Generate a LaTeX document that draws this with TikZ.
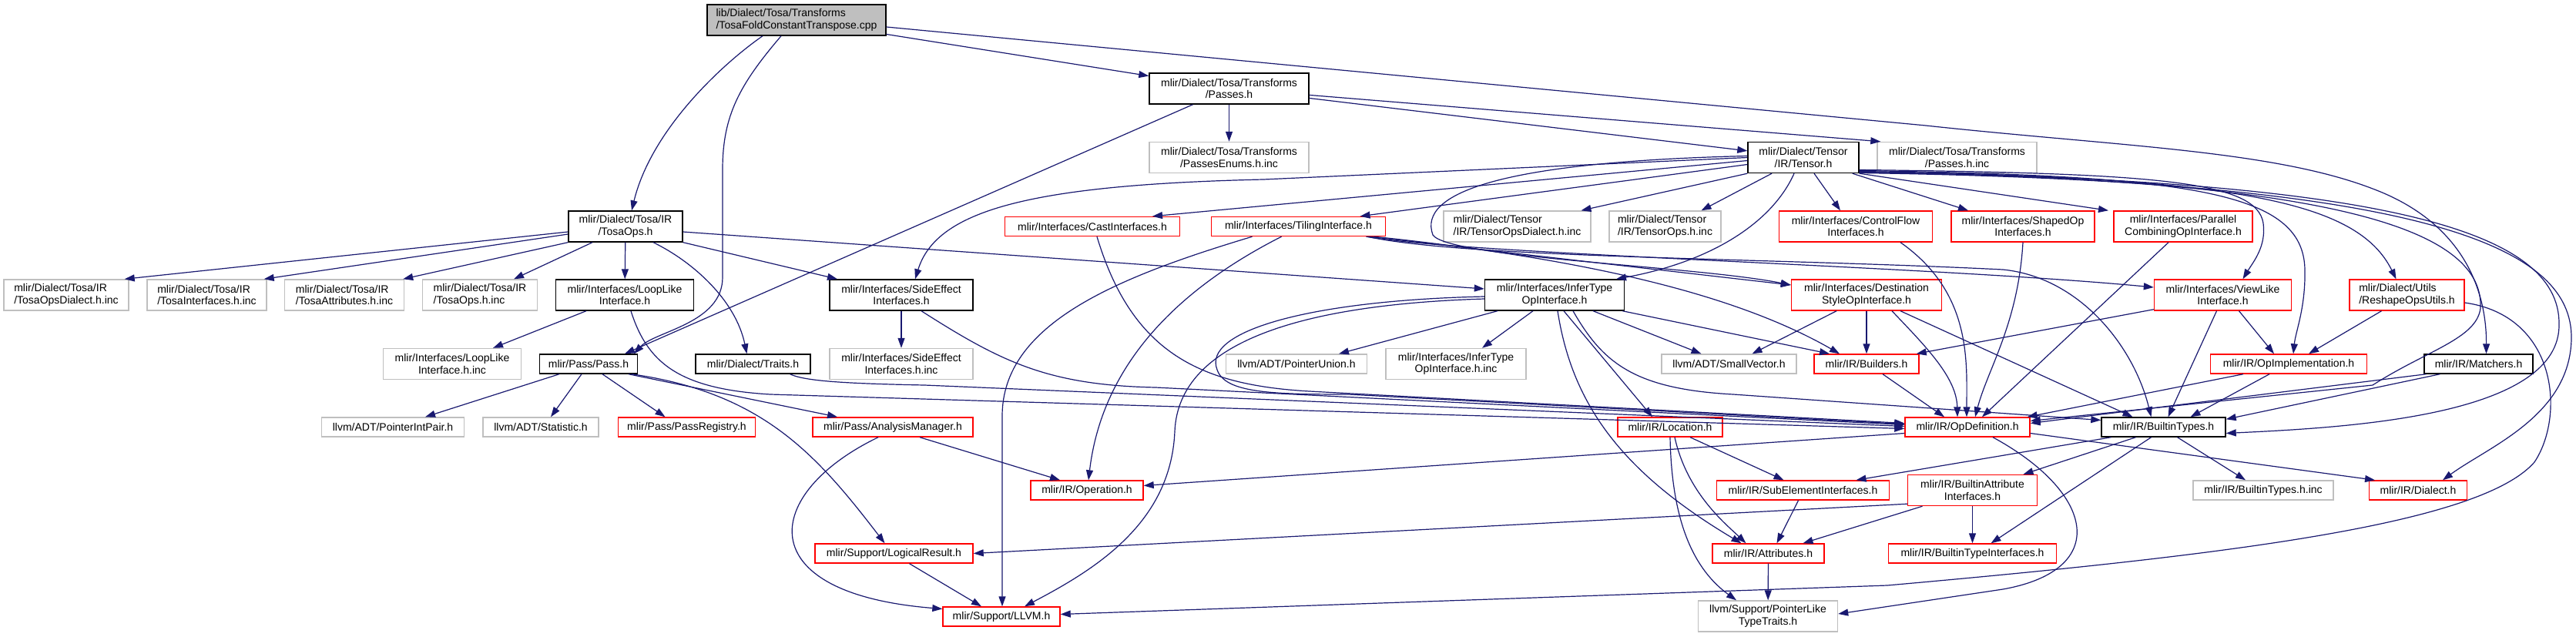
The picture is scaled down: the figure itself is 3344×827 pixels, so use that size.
\documentclass[tikz,border=0pt]{standalone}
\usepackage{fontspec}
\setmainfont{Liberation Sans}
\usetikzlibrary{arrows.meta}
\definecolor{doxEdge}{HTML}{191970}
\definecolor{doxRed}{HTML}{FF0000}
\definecolor{doxGray}{HTML}{BFBFBF}
\tikzset{
  arrowN/.style={-{Triangle[length=13pt, width=9pt]}, doxEdge, line width=1.2pt},
  boxK/.style={rectangle, draw=black, fill=white, line width=1.4pt, align=center,
               inner sep=2pt, minimum height=25pt},
  boxR/.style={boxK, draw=doxRed},
  boxG/.style={boxK, draw=doxGray},
  boxRoot/.style={boxK, fill=doxGray},
  tall/.style={minimum height=40pt},
}
\begin{document}
\begin{tikzpicture}[x=1pt, y=-1pt, font=\fontsize{14}{15.7}\selectfont]
    \path[use as bounding box, fill=white] (0,0) rectangle (3344,827);
    % rank 0 - 2
    \node[boxRoot, tall, align=left, minimum width=232pt] (fold) at (1034,26) {lib/Dialect/Tosa/Transforms\\/TosaFoldConstantTranspose.cpp};
    \node[boxK, tall, minimum width=207pt] (passes) at (1595.5,115) {mlir/Dialect/Tosa/Transforms\\/Passes.h};
    \node[boxG, tall, minimum width=207pt] (passesEnums) at (1595.5,204.5) {mlir/Dialect/Tosa/Transforms\\/PassesEnums.h.inc};
    \node[boxK, tall, minimum width=144pt] (tensor) at (2341,204.5) {mlir/Dialect/Tensor\\/IR/Tensor.h};
    \node[boxG, tall, minimum width=207pt] (passesInc) at (2540.5,204.5) {mlir/Dialect/Tosa/Transforms\\/Passes.h.inc};
    % rank 3
    \node[boxK, tall, minimum width=148pt] (tosaOps) at (812,294) {mlir/Dialect/Tosa/IR\\/TosaOps.h};
    \node[boxR, minimum width=227pt] (castIf) at (1418,294) {mlir/Interfaces/CastInterfaces.h};
    \node[boxR, minimum width=226pt] (tilingIf) at (1685.5,294) {mlir/Interfaces/TilingInterface.h};
    \node[boxG, tall, align=left, minimum width=191pt] (tensorDialectInc) at (1969.5,294) {mlir/Dialect/Tensor\\/IR/TensorOpsDialect.h.inc};
    \node[boxG, tall, align=left, minimum width=145pt] (tensorOpsInc) at (2161.5,294) {mlir/Dialect/Tensor\\/IR/TensorOps.h.inc};
    \node[boxR, tall, minimum width=199pt] (controlFlow) at (2409,294) {mlir/Interfaces/ControlFlow\\Interfaces.h};
    \node[boxR, tall, minimum width=186pt] (shapedOp) at (2626,294) {mlir/Interfaces/ShapedOp\\Interfaces.h};
    \node[boxR, tall, minimum width=180pt] (parallelOp) at (2834,294) {mlir/Interfaces/Parallel\\CombiningOpInterface.h};
    % rank 4
    \node[boxG, tall, align=left, minimum width=162pt] (tosaDialectInc) at (86,383) {mlir/Dialect/Tosa/IR\\/TosaOpsDialect.h.inc};
    \node[boxG, tall, align=left, minimum width=155pt] (tosaIfInc) at (268.5,383) {mlir/Dialect/Tosa/IR\\/TosaInterfaces.h.inc};
    \node[boxG, tall, align=left, minimum width=155pt] (tosaAttrInc) at (447,383) {mlir/Dialect/Tosa/IR\\/TosaAttributes.h.inc};
    \node[boxG, tall, align=left, minimum width=149pt] (tosaOpsInc) at (623,383) {mlir/Dialect/Tosa/IR\\/TosaOps.h.inc};
    \node[boxK, tall, minimum width=179pt] (loopLike) at (811,383) {mlir/Interfaces/LoopLike\\Interface.h};
    \node[boxK, tall, minimum width=186pt] (sideEffect) at (1170,383) {mlir/Interfaces/SideEffect\\Interfaces.h};
    \node[boxK, tall, minimum width=181pt] (inferType) at (2018,383) {mlir/Interfaces/InferType\\OpInterface.h};
    \node[boxR, tall, minimum width=195pt] (destStyle) at (2423,383) {mlir/Interfaces/Destination\\StyleOpInterface.h};
    \node[boxR, tall, minimum width=178pt] (viewLike) at (2885.5,383) {mlir/Interfaces/ViewLike\\Interface.h};
    \node[boxR, tall, align=left, minimum width=149pt] (reshapeUtils) at (3124.5,383) {mlir/Dialect/Utils\\/ReshapeOpsUtils.h};
    % rank 5
    \node[boxG, tall, minimum width=179pt] (loopLikeInc) at (587,472.5) {mlir/Interfaces/LoopLike\\Interface.h.inc};
    \node[boxK, minimum width=127pt] (passH) at (764,472.5) {mlir/Pass/Pass.h};
    \node[boxK, minimum width=149pt] (traits) at (977.5,472.5) {mlir/Dialect/Traits.h};
    \node[boxG, tall, minimum width=186pt] (sideEffectInc) at (1170,472.5) {mlir/Interfaces/SideEffect\\Interfaces.h.inc};
    \node[boxG, minimum width=183pt] (pointerUnion) at (1683,472.5) {llvm/ADT/PointerUnion.h};
    \node[boxG, tall, minimum width=182pt] (inferTypeInc) at (1890,472.5) {mlir/Interfaces/InferType\\OpInterface.h.inc};
    \node[boxG, minimum width=175pt] (smallVector) at (2244.5,472.5) {llvm/ADT/SmallVector.h};
    \node[boxR, minimum width=136pt] (builders) at (2423,472.5) {mlir/IR/Builders.h};
    \node[boxR, minimum width=203pt] (opImpl) at (2971,472.5) {mlir/IR/OpImplementation.h};
    \node[boxK, minimum width=141pt] (matchers) at (3217.5,472.5) {mlir/IR/Matchers.h};
    % rank 6
    \node[boxG, minimum width=185pt] (pointerIntPair) at (510,554.5) {llvm/ADT/PointerIntPair.h};
    \node[boxG, minimum width=150pt] (statistic) at (702,554.5) {llvm/ADT/Statistic.h};
    \node[boxR, minimum width=178pt] (passRegistry) at (891.5,554.5) {mlir/Pass/PassRegistry.h};
    \node[boxR, minimum width=208pt] (analysisMgr) at (1159,554.5) {mlir/Pass/AnalysisManager.h};
    \node[boxR, minimum width=136pt] (location) at (2168,554.5) {mlir/IR/Location.h};
    \node[boxR, minimum width=162pt] (opDef) at (2554,554.5) {mlir/IR/OpDefinition.h};
    \node[boxK, minimum width=161pt] (builtinTypes) at (2808.5,554.5) {mlir/IR/BuiltinTypes.h};
    % rank 7 - 9
    \node[boxR, minimum width=146pt] (operation) at (1411,636.5) {mlir/IR/Operation.h};
    \node[boxR, minimum width=224pt] (subElement) at (2340.5,636.5) {mlir/IR/SubElementInterfaces.h};
    \node[boxR, tall, minimum width=168pt] (builtinAttrIf) at (2560.5,636.5) {mlir/IR/BuiltinAttribute\\Interfaces.h};
    \node[boxG, minimum width=182pt] (builtinTypesInc) at (2938,636.5) {mlir/IR/BuiltinTypes.h.inc};
    \node[boxR, minimum width=127pt] (dialect) at (3139,636.5) {mlir/IR/Dialect.h};
    \node[boxR, minimum width=205pt] (logicalResult) at (1160.5,718.5) {mlir/Support/LogicalResult.h};
    \node[boxR, minimum width=145pt] (attributes) at (2295.5,718.5) {mlir/IR/Attributes.h};
    \node[boxR, minimum width=218pt] (builtinTypeIf) at (2560.5,718.5) {mlir/IR/BuiltinTypeInterfaces.h};
    \node[boxR, minimum width=152pt] (llvmH) at (1300,800.5) {mlir/Support/LLVM.h};
    \node[boxG, tall, minimum width=181pt] (pointerLike) at (2295,800) {llvm/Support/PointerLike\\TypeTraits.h};

    % root and Passes.h
    \draw[arrowN] ([xshift=-44pt]fold.south) .. controls (935,85) and (845,170) .. ([xshift=8pt]tosaOps.north);
    \draw[arrowN] ([xshift=-20pt]fold.south) .. controls (960,110) and (938,150) .. (938,220) -- (938,360)
      .. controls (938,420) and (850,430) .. ([xshift=59pt]passH.north);
    \draw[arrowN] (fold) -- (passes);
    \draw[arrowN] ([yshift=-9pt]fold.east) -- (2500,163) .. controls (2750,190) and (2950,195) .. (3080,245)
      .. controls (3200,290) and (3228,380) .. ([xshift=10pt]matchers.north);
    \draw[arrowN] (passes) -- (passesEnums); \draw[arrowN] (passes) -- (tensor);
    \draw[arrowN] (passes) -- ([xshift=5pt]passesInc.north west);
    \draw[arrowN] ([xshift=-47pt]passes.south) -- ([xshift=47pt]passH.north);

    % Tensor.h
    \draw[arrowN] ([yshift=-4pt]tensor.west) -- ([xshift=78pt]castIf.north);
    \draw[arrowN] ([yshift=-9pt]tensor.west) -- ([xshift=80pt]tilingIf.north);
    \draw[arrowN] (tensor.west) -- (1640,233) .. controls (1330,240) and (1215,275) .. ([xshift=18pt]sideEffect.north);
    \draw[arrowN] (tensor.south west) -- ([xshift=83pt]tensorDialectInc.north);
    \draw[arrowN] ([xshift=-41pt]tensor.south) -- ([xshift=47pt]tensorOpsInc.north);
    \draw[arrowN] ([xshift=-12pt]tensor.south) .. controls (2300,290) and (2220,340) .. ([xshift=80pt]inferType.north);
    \draw[arrowN] ([xshift=14pt]tensor.south) -- ([xshift=-20pt]controlFlow.north);
    \draw[arrowN] ([xshift=-9pt]tensor.south east) -- ([xshift=-71pt]shapedOp.north);
    \draw[arrowN] (tensor.south east) -- ([xshift=-97pt]parallelOp.north);
    \draw[arrowN] ([yshift=-16pt]tensor.east) .. controls (2800,225) and (2930,235) .. (2938,290)
      .. controls (2942,320) and (2925,340) .. ([xshift=26pt]viewLike.north);
    \draw[arrowN] ([yshift=-17pt]tensor.east) .. controls (2850,228) and (2990,250) .. (2992,350)
      .. controls (2993,400) and (2980,430) .. ([xshift=6pt]opImpl.north);
    \draw[arrowN] ([yshift=-18pt]tensor.east) .. controls (2900,230) and (3060,260) .. ([xshift=-14pt]reshapeUtils.north);
    \draw[arrowN] ([yshift=-19pt]tensor.east) .. controls (3000,232) and (3225,290) .. (3220,400)
      .. controls (3215,440) and (3150,455) .. (3080,500) -- ([yshift=8pt]opDef.east);
    \draw[arrowN] ([yshift=-19.5pt]tensor.east) .. controls (3100,232) and (3322,300) .. (3322,420)
      .. controls (3325,540) and (3050,555) .. ([yshift=-8pt]builtinTypes.east);
    \draw[arrowN] ([yshift=-20pt]tensor.east) .. controls (3150,235) and (3340,320) .. (3338,440)
      .. controls (3336,540) and (3230,580) .. ([xshift=32pt]dialect.north);
    \draw[arrowN] ([yshift=2pt]tensor.west) .. controls (1950,210) and (1840,250) .. (1860,305)
      .. controls (1880,335) and (2200,345) .. ([yshift=13pt]destStyle.west);

    % TilingInterface.h
    \draw[arrowN] ([xshift=92pt]tilingIf.south) -- ([yshift=13pt]destStyle.west);
    \draw[arrowN] ([xshift=88pt]tilingIf.south) .. controls (1900,330) and (2500,345) .. ([yshift=10pt]viewLike.west);
    \draw[arrowN] ([xshift=90pt]tilingIf.south) .. controls (1900,335) and (2300,335) .. (2600,350)
      .. controls (2700,360) and (2770,450) .. ([xshift=-16pt]builtinTypes.north);
    \draw[arrowN] ([xshift=98pt]tilingIf.south) .. controls (2050,335) and (2250,380) .. ([xshift=-35pt]builders.north);
    \draw[arrowN] ([xshift=-22pt]tilingIf.south) .. controls (1520,380) and (1430,480) .. ([xshift=2pt]operation.north);
    \draw[arrowN] ([xshift=-60pt]tilingIf.south) .. controls (1450,360) and (1301,420) .. (1301,540) -- ([xshift=1pt]llvmH.north);

    % interfaces into OpDefinition.h
    \draw[arrowN] ([xshift=6pt]castIf.south) .. controls (1470,460) and (1560,500) .. (1700,508) -- ([yshift=5pt]opDef.west);
    \draw[arrowN] (sideEffect) -- (sideEffectInc);
    \draw[arrowN] ([xshift=26pt]sideEffect.south) .. controls (1300,470) and (1360,500) .. (1500,503) -- ([yshift=3pt]opDef.west);
    \draw[arrowN] ([xshift=48pt]traits.south) .. controls (1045,495) and (1100,498) .. (1200,500) -- ([yshift=1pt]opDef.west);
    \draw[arrowN] ([xshift=8pt]loopLike.south) .. controls (840,470) and (880,505) .. (1000,512) -- ([yshift=-2pt]opDef.west);

    % InferTypeOpInterface.h
    \draw[arrowN] ([yshift=-2pt]inferType.west) .. controls (1700,390) and (1560,430) .. (1580,480)
      .. controls (1590,510) and (1650,512) .. (1750,512) -- ([yshift=4pt]opDef.west);
    \draw[arrowN] ([yshift=-5pt]inferType.west) .. controls (1700,395) and (1530,440) .. (1525,560)
      .. controls (1520,680) and (1420,740) .. ([xshift=30pt]llvmH.north);
    \draw[arrowN] ([xshift=-74pt]inferType.south) -- ([xshift=55pt]pointerUnion.north);
    \draw[arrowN] ([xshift=-28pt]inferType.south) -- ([xshift=34pt]inferTypeInc.north);
    \draw[arrowN] ([xshift=12pt]inferType.south) -- ([xshift=-23pt]location.north);
    \draw[arrowN] ([xshift=4pt]inferType.south) .. controls (2040,520) and (2100,610) .. ([xshift=-35pt]attributes.north);
    \draw[arrowN] ([xshift=24pt]inferType.south) .. controls (2080,470) and (2120,505) .. (2250,512) -- ([yshift=9pt]builtinTypes.west);
    \draw[arrowN] ([xshift=50pt]inferType.south) -- ([xshift=-36pt]smallVector.north);
    \draw[arrowN] ([xshift=-3pt]inferType.south east) -- ([xshift=-48pt]builders.north);

    % TosaOps.h
    \draw[arrowN] ([yshift=-7pt]tosaOps.west) -- ([xshift=-6pt]tosaDialectInc.north east);
    \draw[arrowN] ([yshift=-10pt]tosaOps.west) -- ([xshift=-4pt]tosaIfInc.north east);
    \draw[arrowN] (tosaOps.south west) -- ([xshift=-2pt]tosaAttrInc.north east);
    \draw[arrowN] ([xshift=-43pt]tosaOps.south) -- ([xshift=44pt]tosaOpsInc.north);
    \draw[arrowN] (tosaOps) -- (loopLike);
    \draw[arrowN] ([xshift=36pt]tosaOps.south) .. controls (900,340) and (955,390) .. ([xshift=-8pt]traits.north);
    \draw[arrowN] (tosaOps.south east) -- ([xshift=-83pt]sideEffect.north);
    \draw[arrowN] ([yshift=-7pt]tosaOps.east) -- ([yshift=8pt]inferType.west);
    \draw[arrowN] ([xshift=-50pt]loopLike.south) -- ([xshift=53pt]loopLikeInc.north);

    % Pass.h and below
    \draw[arrowN] ([xshift=-38pt]passH.south) -- ([xshift=42pt]pointerIntPair.north);
    \draw[arrowN] ([xshift=-9pt]passH.south) -- ([xshift=13pt]statistic.north);
    \draw[arrowN] ([xshift=18pt]passH.south) -- ([xshift=-28pt]passRegistry.north);
    \draw[arrowN] ([xshift=52pt]passH.south) -- ([xshift=-72pt]analysisMgr.north);
    \draw[arrowN] ([xshift=56pt]passH.south) .. controls (990,510) and (1060,590) .. ([xshift=-12pt]logicalResult.north);
    \draw[arrowN] ([xshift=35pt]analysisMgr.south) -- ([xshift=-35pt]operation.north);
    \draw[arrowN] ([xshift=-19pt]analysisMgr.south) .. controls (990,640) and (970,770) .. ([yshift=10pt]llvmH.west);
    \draw[arrowN] ([xshift=20pt]logicalResult.south) -- ([xshift=-26pt]llvmH.north);

    % IR headers
    \draw[arrowN] ([xshift=26pt]location.south) -- ([xshift=-25pt]subElement.north);
    \draw[arrowN] ([xshift=6pt]location.south) .. controls (2190,640) and (2240,680) .. ([xshift=-29pt]attributes.north);
    \draw[arrowN] (location.south) .. controls (2170,680) and (2200,740) .. ([xshift=-41pt]pointerLike.north);
    \draw[arrowN] ([yshift=-8pt]opDef.west) -- ([yshift=6pt]operation.east);
    \draw[arrowN] ([yshift=-8pt]opDef.east) -- ([xshift=-56pt]dialect.north);
    \draw[arrowN] ([xshift=33pt]opDef.south) .. controls (2720,640) and (2740,740) .. (2600,765) -- ([yshift=3pt]pointerLike.east);
    \draw[arrowN] ([xshift=-68pt]builtinTypes.south) -- ([xshift=69pt]subElement.north);
    \draw[arrowN] ([xshift=-36pt]builtinTypes.south) -- ([xshift=66pt]builtinAttrIf.north);
    \draw[arrowN] ([xshift=-16pt]builtinTypes.south) -- ([xshift=24pt]builtinTypeIf.north);
    \draw[arrowN] ([xshift=18pt]builtinTypes.south) -- ([xshift=-23pt]builtinTypesInc.north);
    \draw[arrowN] ([xshift=-6pt]subElement.south) -- ([xshift=11pt]attributes.north);
    \draw[arrowN] ([xshift=-65pt]builtinAttrIf.south) -- ([xshift=45pt]attributes.north);
    \draw[arrowN] (builtinAttrIf) -- (builtinTypeIf);
    \draw[arrowN] ([yshift=3pt]builtinAttrIf.south west) -- (logicalResult.east);
    \draw[arrowN] (attributes) -- (pointerLike);

    % right part
    \draw[arrowN] ([xshift=-59pt]opImpl.south) -- ([xshift=-4pt]opDef.north east);
    \draw[arrowN] ([xshift=-25pt]opImpl.south) -- ([xshift=35pt]builtinTypes.north);
    \draw[arrowN] ([yshift=2pt]viewLike.south west) -- ([xshift=-4pt]builders.north east);
    \draw[arrowN] ([xshift=21pt]viewLike.south) -- ([xshift=-19pt]opImpl.north);
    \draw[arrowN] ([xshift=-8pt]viewLike.south) -- ([xshift=6pt]builtinTypes.north);
    \draw[arrowN] ([xshift=-33pt]reshapeUtils.south) -- ([xshift=26pt]opImpl.north);
    \draw[arrowN] ([yshift=-10pt]reshapeUtils.east) .. controls (3320,410) and (3330,540) .. (3290,600)
      .. controls (3220,680) and (2900,720) .. (2450,760) -- ([yshift=3pt]llvmH.east);
    \draw[arrowN] ([xshift=21pt]builders.south) -- ([xshift=-30pt]opDef.north);
    \draw[arrowN] ([xshift=-39pt]destStyle.south) -- ([xshift=30pt]smallVector.north);
    \draw[arrowN] (destStyle) -- (builders);
    \draw[arrowN] ([xshift=33pt]destStyle.south) .. controls (2500,450) and (2540,490) .. ([xshift=-13pt]opDef.north);
    \draw[arrowN] ([xshift=44pt]destStyle.south) -- ([xshift=-40pt]builtinTypes.north);
    \draw[arrowN] ([xshift=58pt]controlFlow.south) .. controls (2560,380) and (2553,470) .. ([xshift=-1pt]opDef.north);
    \draw[arrowN] (shapedOp.south) .. controls (2620,420) and (2580,480) .. ([xshift=10pt]opDef.north);
    \draw[arrowN] ([xshift=-19pt]parallelOp.south) -- ([xshift=19pt]opDef.north);
    \draw[arrowN] ([xshift=-68pt]matchers.south) -- ([yshift=5pt]opDef.east);
    \draw[arrowN] ([xshift=-50pt]matchers.south) -- ([yshift=-3pt]builtinTypes.north east);
  \end{tikzpicture}
\end{document}
